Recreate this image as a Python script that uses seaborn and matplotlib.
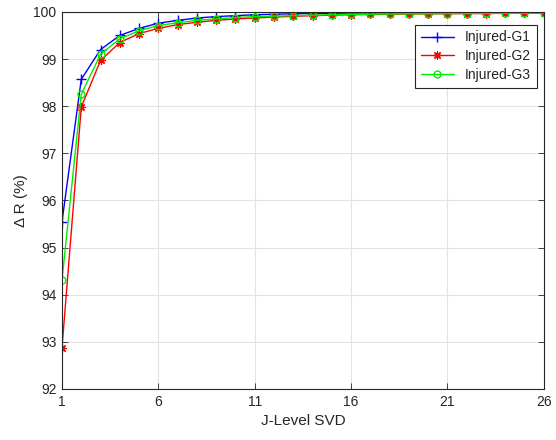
import matplotlib
matplotlib.use("Agg")
import matplotlib.pyplot as plt
import seaborn as sns
import numpy as np

levels = list(range(1, 27))
g1 = [95.55, 98.57, 99.20, 99.50, 99.65, 99.76, 99.82, 99.87, 99.90, 99.92, 99.94, 99.95, 99.96,
      99.965, 99.97, 99.975, 99.98, 99.98, 99.985, 99.985, 99.99, 99.99, 99.99, 99.99, 99.995, 99.995]
g2 = [92.87, 97.98, 98.97, 99.35, 99.54, 99.65, 99.73, 99.78, 99.82, 99.85, 99.87, 99.89, 99.905,
      99.92, 99.93, 99.94, 99.945, 99.95, 99.955, 99.96, 99.96, 99.965, 99.965, 99.97, 99.97, 99.97]
g3 = [94.31, 98.25, 99.10, 99.43, 99.60, 99.71, 99.77, 99.82, 99.85, 99.88, 99.90, 99.91, 99.92,
      99.93, 99.94, 99.945, 99.95, 99.955, 99.96, 99.96, 99.965, 99.965, 99.97, 99.97, 99.97, 99.975]
names = ["Injured-G1", "Injured-G2", "Injured-G3"]
xticks = [1, 6, 11, 16, 21, 26]
yticks = [92, 93, 94, 95, 96, 97, 98, 99, 100]

sns.set_theme(style="whitegrid")
plt.rcParams['font.family'] = ['Liberation Sans', 'DejaVu Sans']

fig = plt.figure(figsize=(5.56, 4.4), dpi=100)
ax = fig.add_axes([0.1115, 0.116, 0.8665, 0.857])

styles = [("#0000ff", "+", dict(markersize=7, markeredgewidth=1.0)),
          ("#ff0000", (8, 2, 0), dict(markersize=6, markeredgewidth=0.9)),
          ("#00ee00", "o", dict(markersize=5, markerfacecolor="none", markeredgewidth=1.0))]
for data, name, (c, m, kw) in zip([g1, g2, g3], names, styles):
    sns.lineplot(x=levels, y=data, ax=ax, color=c, marker=m, linewidth=1.0,
                 markeredgecolor=c, label=name, **kw)

ax.set_xlim(1, 26)
ax.set_ylim(92, 100)
ax.set_xticks(xticks)
ax.set_yticks(yticks)
ax.set_xlabel("J-Level SVD", fontsize=11, color="#262626")
ax.set_ylabel("Δ R (%)", fontsize=11, color="#262626")
ax.tick_params(axis='both', labelsize=10, colors="#262626", direction='in', length=4,
               width=0.6, top=True, right=True, bottom=True, left=True, pad=4)
ax.grid(True, color="#e3e3e3", linewidth=0.8)
for s in ax.spines.values():
    s.set_visible(True)
    s.set_color("#262626")
    s.set_linewidth(0.8)

leg = ax.legend(loc="upper right", bbox_to_anchor=(0.9855, 0.9655), fontsize=10,
                frameon=True, fancybox=False, edgecolor="#262626", framealpha=1,
                handlelength=2.4, borderpad=0.4, labelspacing=0.35, borderaxespad=0)
leg.get_frame().set_linewidth(0.8)

fig.savefig("out.png", dpi=100)
